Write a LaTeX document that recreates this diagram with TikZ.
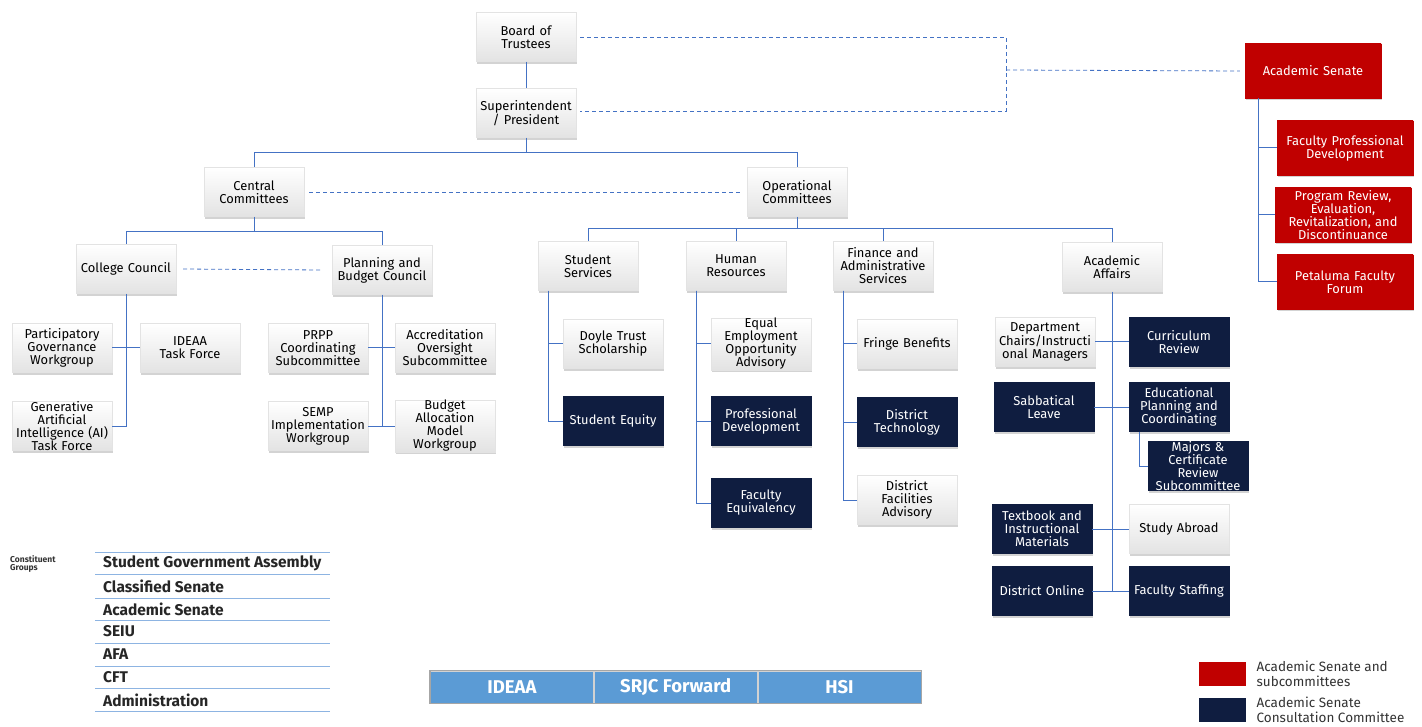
\documentclass[tikz,border=0pt]{standalone}
\usepackage{fontspec}
\setmainfont{Fira Sans}
\usetikzlibrary{shadows}
\definecolor{navy}{HTML}{0F1D40}
\definecolor{sred}{HTML}{C00000}
\definecolor{lblue}{HTML}{4472C4}
\definecolor{tblue}{HTML}{8DB4E2}
\definecolor{bblue}{HTML}{5B9BD5}
\begin{document}
\begin{tikzpicture}[x=1pt,y=-1pt,
  box/.style={rectangle, draw=gray!22, line width=0.4pt, minimum width=100pt, minimum height=49pt,
    text width=100pt, align=center, inner sep=0pt, top color=white, bottom color=gray!22,
    font=\fontsize{12.9}{13}\selectfont,
    drop shadow={shadow xshift=0.5pt, shadow yshift=-2.5pt, opacity=0.35}},
  dbox/.style={box, draw=navy, top color=navy, bottom color=navy, text=white},
  rbox/.style={box, draw=sred, top color=sred, bottom color=sred, text=white, minimum width=136pt, minimum height=54pt, text width=134pt},
  conn/.style={draw=lblue, line width=1pt},
  dsh/.style={draw=lblue, line width=0.8pt, dash pattern=on 4pt off 3pt},
  tline/.style={draw=tblue, line width=1pt},
  cgtext/.style={anchor=west, inner sep=0pt, font=\fontsize{15.5}{16}\selectfont\bfseries, text=black!85},
  ban/.style={anchor=west, minimum width=163pt, minimum height=32pt, inner sep=0pt, fill=bblue, draw=gray!35, line width=0.8pt, text=white, font=\fontsize{18.5}{19}\selectfont\bfseries},
  legtext/.style={anchor=west, align=left, inner sep=0pt, font=\fontsize{13.5}{15}\selectfont, text=black!80}
]
\useasboundingbox (0,0) rectangle (1422,727);

% top
\node[box] (bot) at (526,37) {Board of\\Trustees};
\node[box] (sup) at (526,113) {Superintendent\\/ President};
\node[box] (cen) at (254,192) {Central\\Committees};
\node[box] (op) at (797,192) {Operational\\Committees};
\node[box] (cc) at (126,269) {College Council};
\node[box] (pbc) at (382,270) {Planning and\\Budget Council};
\node[box] (pgw) at (62,348) {Participatory\\Governance\\Workgroup};
\node[box] (ida) at (190,348) {IDEAA\\Task Force};
\node[box] (gai) at (62,426) {Generative\\Artificial\\Intelligence (AI)\\Task Force};
\node[box] (prpp) at (318,348) {PRPP\\Coordinating\\Subcommittee};
\node[box] (aos) at (445,348) {Accreditation\\Oversight\\Subcommittee};
\node[box] (semp) at (318,426) {SEMP\\Implementation\\Workgroup};
\node[box] (bam) at (445,426) {Budget\\Allocation\\Model\\Workgroup};
\node[box] (ss) at (588,266) {Student\\Services};
\node[box] (hr) at (736,266) {Human\\Resources};
\node[box] (fas) at (883,266) {Finance and\\Administrative\\Services};
\node[box] (aa) at (1112,267) {Academic\\Affairs};
\node[box] (doy) at (613,344) {Doyle Trust\\Scholarship};
\node[dbox] (seq) at (613,421) {Student Equity};
\node[box] (eeo) at (761,344) {Equal\\Employment\\Opportunity\\Advisory};
\node[dbox] (pd) at (761,421) {Professional\\Development};
\node[dbox] (fe) at (761,503) {Faculty\\Equivalency};
\node[box] (fb) at (907,344) {Fringe Benefits};
\node[dbox] (dt) at (907,422) {District\\Technology};
\node[box] (dfa) at (907,500) {District\\Facilities\\Advisory};
\node[box] (dc) at (1045,342) {Department\\Chairs/Instructi\\onal Managers};
\node[dbox] (cr) at (1179,342) {Curriculum\\Review};
\node[dbox] (sl) at (1044,407) {Sabbatical\\Leave};
\node[dbox] (epc) at (1179,407) {Educational\\Planning and\\Coordinating};
\node[dbox] (mcr) at (1198,466) {Majors \&\\Certificate\\Review\\Subcommittee};
\node[dbox] (tim) at (1042,529) {Textbook and\\Instructional\\Materials};
\node[box] (sa) at (1179,529) {Study Abroad};
\node[dbox] (dol) at (1042,591) {District Online};
\node[dbox] (fs) at (1179,591) {Faculty Staffing};

% red
\node[rbox] (as) at (1313,71) {Academic Senate};
\node[rbox] (fpd) at (1345,148) {Faculty Professional\\Development};
\node[rbox] (pr) at (1343,215) {Program Review,\\Evaluation,\\Revitalization, and\\Discontinuance};
\node[rbox] (pff) at (1345,282) {Petaluma Faculty\\Forum};

% connectors
\draw[conn] (bot) -- (sup);
\draw[conn] (sup.south) -- ++(0,15) coordinate (hub1) -| (cen.north);
\draw[conn] (hub1) -| (op.north);
\draw[conn] (cen.south) -- ++(0,15) coordinate (hub2) -| (cc.north);
\draw[conn] (hub2) -| (pbc.north);
\draw[conn] (cc.south) |- (gai.east);
\draw[conn] (pgw.east) -- (ida.west);
\draw[conn] (pbc.south) |- (semp.east);
\draw[conn] (semp.east) -- (bam.west);
\draw[conn] (prpp.east) -- (aos.west);
\draw[conn] (op.south) -- ++(0,12) coordinate (hub3) -| (ss.north);
\draw[conn] (hub3) -| (hr.north);
\draw[conn] (hub3) -| (fas.north);
\draw[conn] (hub3) -| (aa.north);
\draw[conn] ([xshift=11pt]ss.south west) |- (seq.west);
\draw[conn] ([xshift=11pt]ss.south west) |- (doy.west);
\draw[conn] ([xshift=11pt]hr.south west) |- (fe.west);
\draw[conn] ([xshift=11pt]hr.south west) |- (pd.west);
\draw[conn] ([xshift=11pt]hr.south west) |- (eeo.west);
\draw[conn] ([xshift=11pt]fas.south west) |- (dfa.west);
\draw[conn] ([xshift=11pt]fas.south west) |- (dt.west);
\draw[conn] ([xshift=11pt]fas.south west) |- (fb.west);
\draw[conn] (aa.south) -- (aa.south |- dol.east);
\draw[conn] (dc.east) -- (cr.west);
\draw[conn] (sl.east) -- (epc.west);
\draw[conn] (tim.east) -- (sa.west);
\draw[conn] (dol.east) -- (fs.west);
\draw[conn] ([xshift=11pt]epc.south west) |- (mcr.west);
\draw[conn] ([xshift=14pt]as.south west) |- (pff.west);
\draw[conn] ([xshift=14pt]as.south west) |- (pr.west);
\draw[conn] ([xshift=14pt]as.south west) |- (fpd.west);

% dashed
\coordinate (dj) at (1006,70);
\draw[dsh] ([xshift=4pt]bot.east) -| (dj) |- ([xshift=4pt,yshift=2pt]sup.east);
\draw[dsh] (dj) -- ([xshift=-5pt]as.west);
\draw[dsh] ([xshift=5pt]cen.east) -- ([xshift=-5pt]op.west);
\draw[dsh] ([xshift=7pt]cc.east) -- ([xshift=-9pt]pbc.west);

% constituent groups
\node[anchor=north west, align=left, inner sep=0pt, font=\fontsize{8.5}{8.5}\selectfont\bfseries, text=black!80] (cg) at (10,555) {Constituent\\Groups};
\foreach \yy in {552,574,598,620,643,666,688,711} { \draw[tline] (95,\yy) -- (330,\yy); }
\node[cgtext] (g1) at (103,563) {Student Government Assembly};
\node[cgtext] (g2) at (103,586) {Classified Senate};
\node[cgtext] (g3) at (103,609) {Academic Senate};
\node[cgtext] (g4) at (103,631) {SEIU};
\node[cgtext] (g5) at (103,654) {AFA};
\node[cgtext] (g6) at (103,677) {CFT};
\node[cgtext] (g7) at (103,700) {Administration};

% banner
\node[ban] (b1) at (430,687) {IDEAA};
\node[ban] (b2) at (b1.east) {SRJC Forward};
\node[ban] (b3) at (b2.east) {HSI};
\draw[gray!70, line width=1.6pt] (b1.north west) rectangle (b3.south east);

% legend
\node[anchor=north west, fill=sred, minimum width=47pt, minimum height=24pt, inner sep=0pt] (lr) at (1199,662) {};
\node[legtext] (lrt) at ([xshift=10pt]lr.east) {Academic Senate and\\subcommittees};
\node[anchor=north west, fill=navy, minimum width=47pt, minimum height=24pt, inner sep=0pt] (ln) at (1199,698) {};
\node[legtext] (lnt) at ([xshift=10pt]ln.east) {Academic Senate\\Consultation Committee};
\end{tikzpicture}
\end{document}
